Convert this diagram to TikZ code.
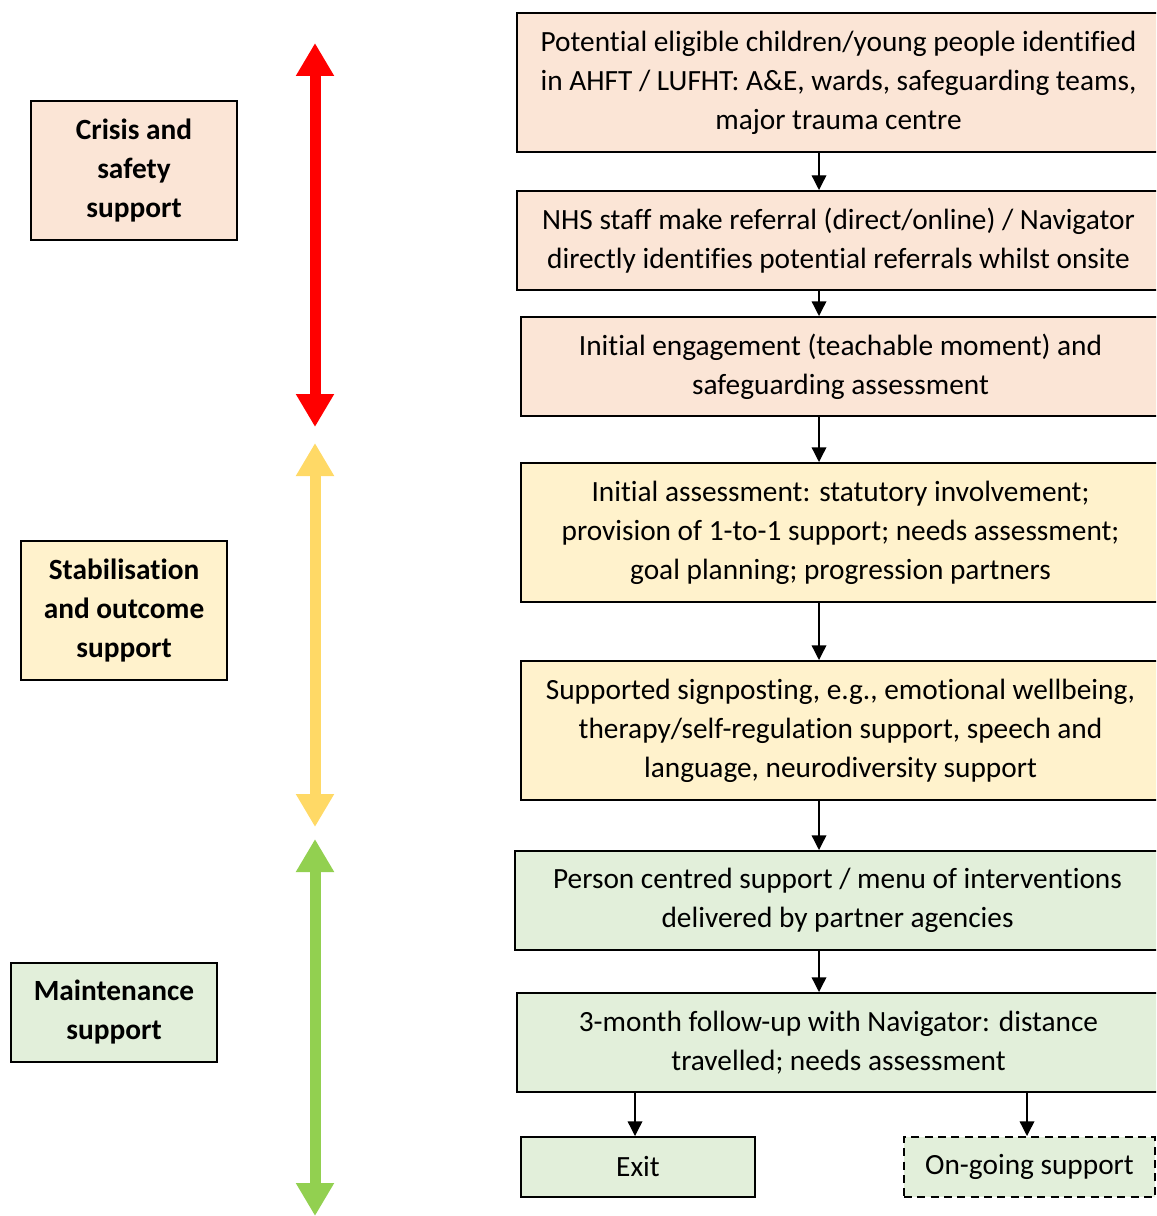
\documentclass[tikz,border=0pt]{standalone}
\usepackage{fontspec}
\setmainfont{Carlito}[Ligatures={NoCommon}]
\usetikzlibrary{arrows.meta,calc}
\definecolor{pinkf}{HTML}{FBE5D6}
\definecolor{yelf}{HTML}{FFF2CC}
\definecolor{grnf}{HTML}{E2EFDA}
\definecolor{arred}{HTML}{FF0000}
\definecolor{aryel}{HTML}{FFD966}
\definecolor{argrn}{HTML}{92D050}
\begin{document}
\begin{tikzpicture}[x=0.75pt,y=-0.75pt,
  sz/.style 2 args={minimum width=#1*0.75pt, minimum height=#2*0.75pt},
  box/.style={draw=black, line width=1.5pt, inner sep=0pt, align=center,
    font=\fontsize{22}{29.25}\selectfont},
  sidebox/.style={box, font=\fontsize{22}{29.25}\selectfont\bfseries},
  conn/.style={draw=black, line width=1pt, -{Triangle[length=11pt,width=11pt]}},
  bigarrow/.style={draw=#1, line width=8.25pt,
    {Triangle[length=24.75pt,width=27pt]}-{Triangle[length=24.75pt,width=27pt]}}
]
\clip (0,0) rectangle (1156,1216);
% flow boxes
\node[box, fill=pinkf, sz={643}{139}] (b1) at (838.5,82.5)
  {Potential eligible children/young people identified\\ in AHFT / LUFHT: A\&E, wards, safeguarding teams,\\ major trauma centre};
\node[box, fill=pinkf, sz={643}{99}] (b2) at (838.5,240.5)
  {NHS staff make referral (direct/online) / Navigator\\ directly identifies potential referrals whilst onsite};
\node[box, fill=pinkf, sz={639}{99}] (b3) at (840.5,366.5)
  {Initial engagement (teachable moment) and\\ safeguarding assessment};
\node[box, fill=yelf, sz={639}{139}] (b4) at (840.5,532.5)
  {Initial assessment: statutory involvement;\\ provision of 1-to-1 support; needs assessment;\\ goal planning; progression partners};
\node[box, fill=yelf, sz={639}{139}] (b5) at (840.5,730.5)
  {Supported signposting, e.g., emotional wellbeing,\\ therapy/self-regulation support, speech and\\ language, neurodiversity support};
\node[box, fill=grnf, sz={645}{99}] (b6) at (837.5,900.5)
  {Person centred support / menu of interventions\\ delivered by partner agencies};
\node[box, fill=grnf, sz={643}{99}] (b7) at (838.5,1042.5)
  {3-month follow-up with Navigator: distance\\ travelled; needs assessment};
\node[box, fill=grnf, sz={234}{60}] (exit) at (638,1167) {Exit};
\node[box, fill=grnf, dashed, dash pattern=on 6pt off 4pt, sz={251}{60}] (ong) at (1029.5,1167) {On-going support};
% side boxes
\node[sidebox, fill=pinkf, sz={206}{139}] (crisis) at (134,170.5) {Crisis and\\ safety\\ support};
\node[sidebox, fill=yelf, sz={206}{139}] (stab) at (124,610.5) {Stabilisation\\ and outcome\\ support};
\node[sidebox, fill=grnf, sz={206}{99}] (maint) at (114,1012.5) {Maintenance\\ support};
% connectors
\coordinate (ax) at (819,0);
\draw[conn] (ax |- b1.south) -- (ax |- b2.north);
\draw[conn] (ax |- b2.south) -- (ax |- b3.north);
\draw[conn] (ax |- b3.south) -- (ax |- b4.north);
\draw[conn] (ax |- b4.south) -- (ax |- b5.north);
\draw[conn] (ax |- b5.south) -- (ax |- b6.north);
\draw[conn] (ax |- b6.south) -- (ax |- b7.north);
\coordinate (ea) at ($(exit.north)+(-3,0)$);
\coordinate (oa) at ($(ong.north)+(-2.5,0)$);
\draw[conn] (ea |- b7.south) -- (ea);
\draw[conn] (oa |- b7.south) -- (oa);
% phase arrows
\coordinate (r1) at (315,43);
\coordinate (r2) at (315,427);
\coordinate (y1) at (315,443);
\coordinate (y2) at (315,827);
\coordinate (g1) at (315,839);
\coordinate (g2) at (315,1216);
\draw[bigarrow=arred] (r1) -- (r2);
\draw[bigarrow=aryel] (y1) -- (y2);
\draw[bigarrow=argrn] (g1) -- (g2);
\end{tikzpicture}
\end{document}
